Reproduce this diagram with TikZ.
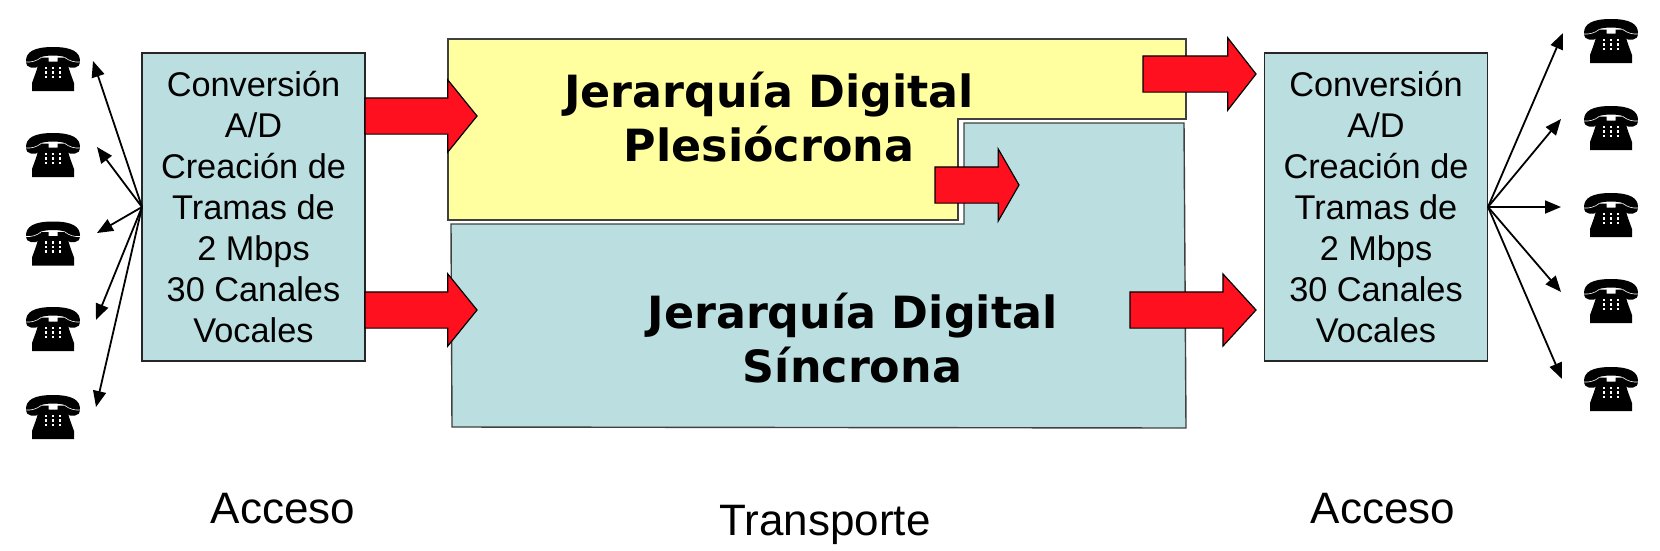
\documentclass[tikz,border=0pt]{standalone}
\usepackage{fontspec}
\setmainfont{Liberation Sans}
\newfontfamily\titulofont[BoldFont={DejaVu Sans Bold}]{DejaVu Sans}
\usetikzlibrary{arrows.meta,shapes.arrows}
\definecolor{azul}{HTML}{BBDEE0}
\definecolor{amarillo}{HTML}{FFFF9F}
\definecolor{rojo}{HTML}{FF101F}
\tikzset{
  conversor/.style={draw=black!85,line width=1.6pt,fill=azul,minimum width=223pt,minimum height=308pt,
    inner sep=0pt,align=center,font=\fontsize{34.3}{41}\selectfont},
  flecha/.style={draw=black,line width=1.2pt,fill=rojo,single arrow,anchor=tail,inner sep=0pt,outer sep=0pt,
    text height=35pt,text depth=0pt,minimum width=71pt,single arrow head extend=18pt},
  zona/.style={draw=black!75,line width=1.4pt},
  titulo/.style={align=center,font=\titulofont\bfseries\fontsize{44.4}{54}\selectfont},
  pie/.style={font=\fontsize{44}{52}\selectfont},
  enlace/.style={line width=1.8pt,-{Triangle[length=16pt,width=13pt]}},
  telefono/.pic={
    \fill (-27,-8) .. controls (-27,-17) and (-19,-22) .. (0,-22) .. controls (19,-22) and (27,-17) .. (27,-8)
      .. controls (27,-4) and (25,-1.5) .. (22,-1.5) -- (17,-1.5) .. controls (14,-1.5) and (13,-4) .. (13,-7)
      -- (12,-12) .. controls (5,-14) and (-5,-14) .. (-12,-12) -- (-13,-7)
      .. controls (-13,-4) and (-14,-1.5) .. (-17,-1.5) -- (-22,-1.5) .. controls (-25,-1.5) and (-27,-4) .. (-27,-8) -- cycle;
    \fill (-21,22) -- (21,22) -- (21,14) .. controls (18.5,7) and (16,1) .. (15,-4) -- (12,-11.5) -- (4.5,-11.5)
      -- (4.5,-7.5) -- (-4.5,-7.5) -- (-4.5,-11.5) -- (-12,-11.5) -- (-15,-4) .. controls (-16,1) and (-18.5,7) .. (-21,14) -- cycle;
    \draw[white,line width=.6pt] (-27,-7) .. controls (-22,-6.5) and (-16,-8) .. (-12,-11.5);
    \draw[white,line width=.6pt] (27,-7) .. controls (22,-6.5) and (16,-8) .. (12,-11.5);
    \foreach \bx in {-7,0,7}
      \foreach \by in {-1,3.5,8}
        \fill[white] (\bx-1.3,\by-1.2) rectangle (\bx+1.3,\by+1.2);
  }
}
\begin{document}
\begin{tikzpicture}[x=1pt,y=-1pt]
  \useasboundingbox (0,0) rectangle (1660,550);
  \draw[zona,fill=amarillo] (448,39) -- (1186,39) -- (1186,119) -- (958,119) -- (958,220) -- (448,220) -- cycle;
  \draw[zona,fill=azul] (964,123) -- (1184,123) -- (1186,428) -- (452,427) -- (451,224) -- (964,224) -- cycle;
  \node[conversor] (izq) at (253.5,207) {Conversión\\A/D\\Creación de\\Tramas de\\2 Mbps\\30 Canales\\Vocales};
  \node[conversor] (der) at (1376,207) {Conversión\\A/D\\Creación de\\Tramas de\\2 Mbps\\30 Canales\\Vocales};
  \node[titulo] (pdh) at (769,117) {Jerarquía Digital\\Plesiócrona};
  \node[titulo] (sdh) at (852.5,338) {Jerarquía Digital\\Síncrona};
  \node[flecha,minimum height=112pt,single arrow tip angle=102] (fa) at (365,116) {};
  \node[flecha,minimum height=112pt,single arrow tip angle=102] (fb) at (365,310) {};
  \node[flecha,minimum height=84pt,single arrow tip angle=120] (fc) at (935,185) {};
  \node[flecha,minimum height=113pt,single arrow tip angle=104] (fd) at (1143,74) {};
  \node[flecha,minimum height=126pt,single arrow tip angle=95] (fe) at (1130,310) {};
  \coordinate (sal) at (142,207);
  \coordinate (ent) at (1488,207);
  \foreach \n/\tx/\ty/\py in {1/93/61/69,2/97/147/155,3/97/233/243.5,4/96/320/329,5/96/407/417}{
    \coordinate (ti\n) at (\tx,\ty);
    \draw[enlace] (sal) -- (ti\n);
    \pic at (53,\py) {telefono};
  }
  \foreach \n/\tx/\ty/\py in {1/1563/33/41,2/1561/119/128,3/1561/207/215,4/1561/292/301,5/1562/379/389}{
    \coordinate (td\n) at (\tx,\ty);
    \draw[enlace] (ent) -- (td\n);
    \pic at (1611,\py) {telefono};
  }
  \node[pie] (aa) at (283,509) {Acceso};
  \node[pie] (tr) at (825,525) {Transporte};
  \node[pie] (ab) at (1383,509) {Acceso};
\end{tikzpicture}
\end{document}
